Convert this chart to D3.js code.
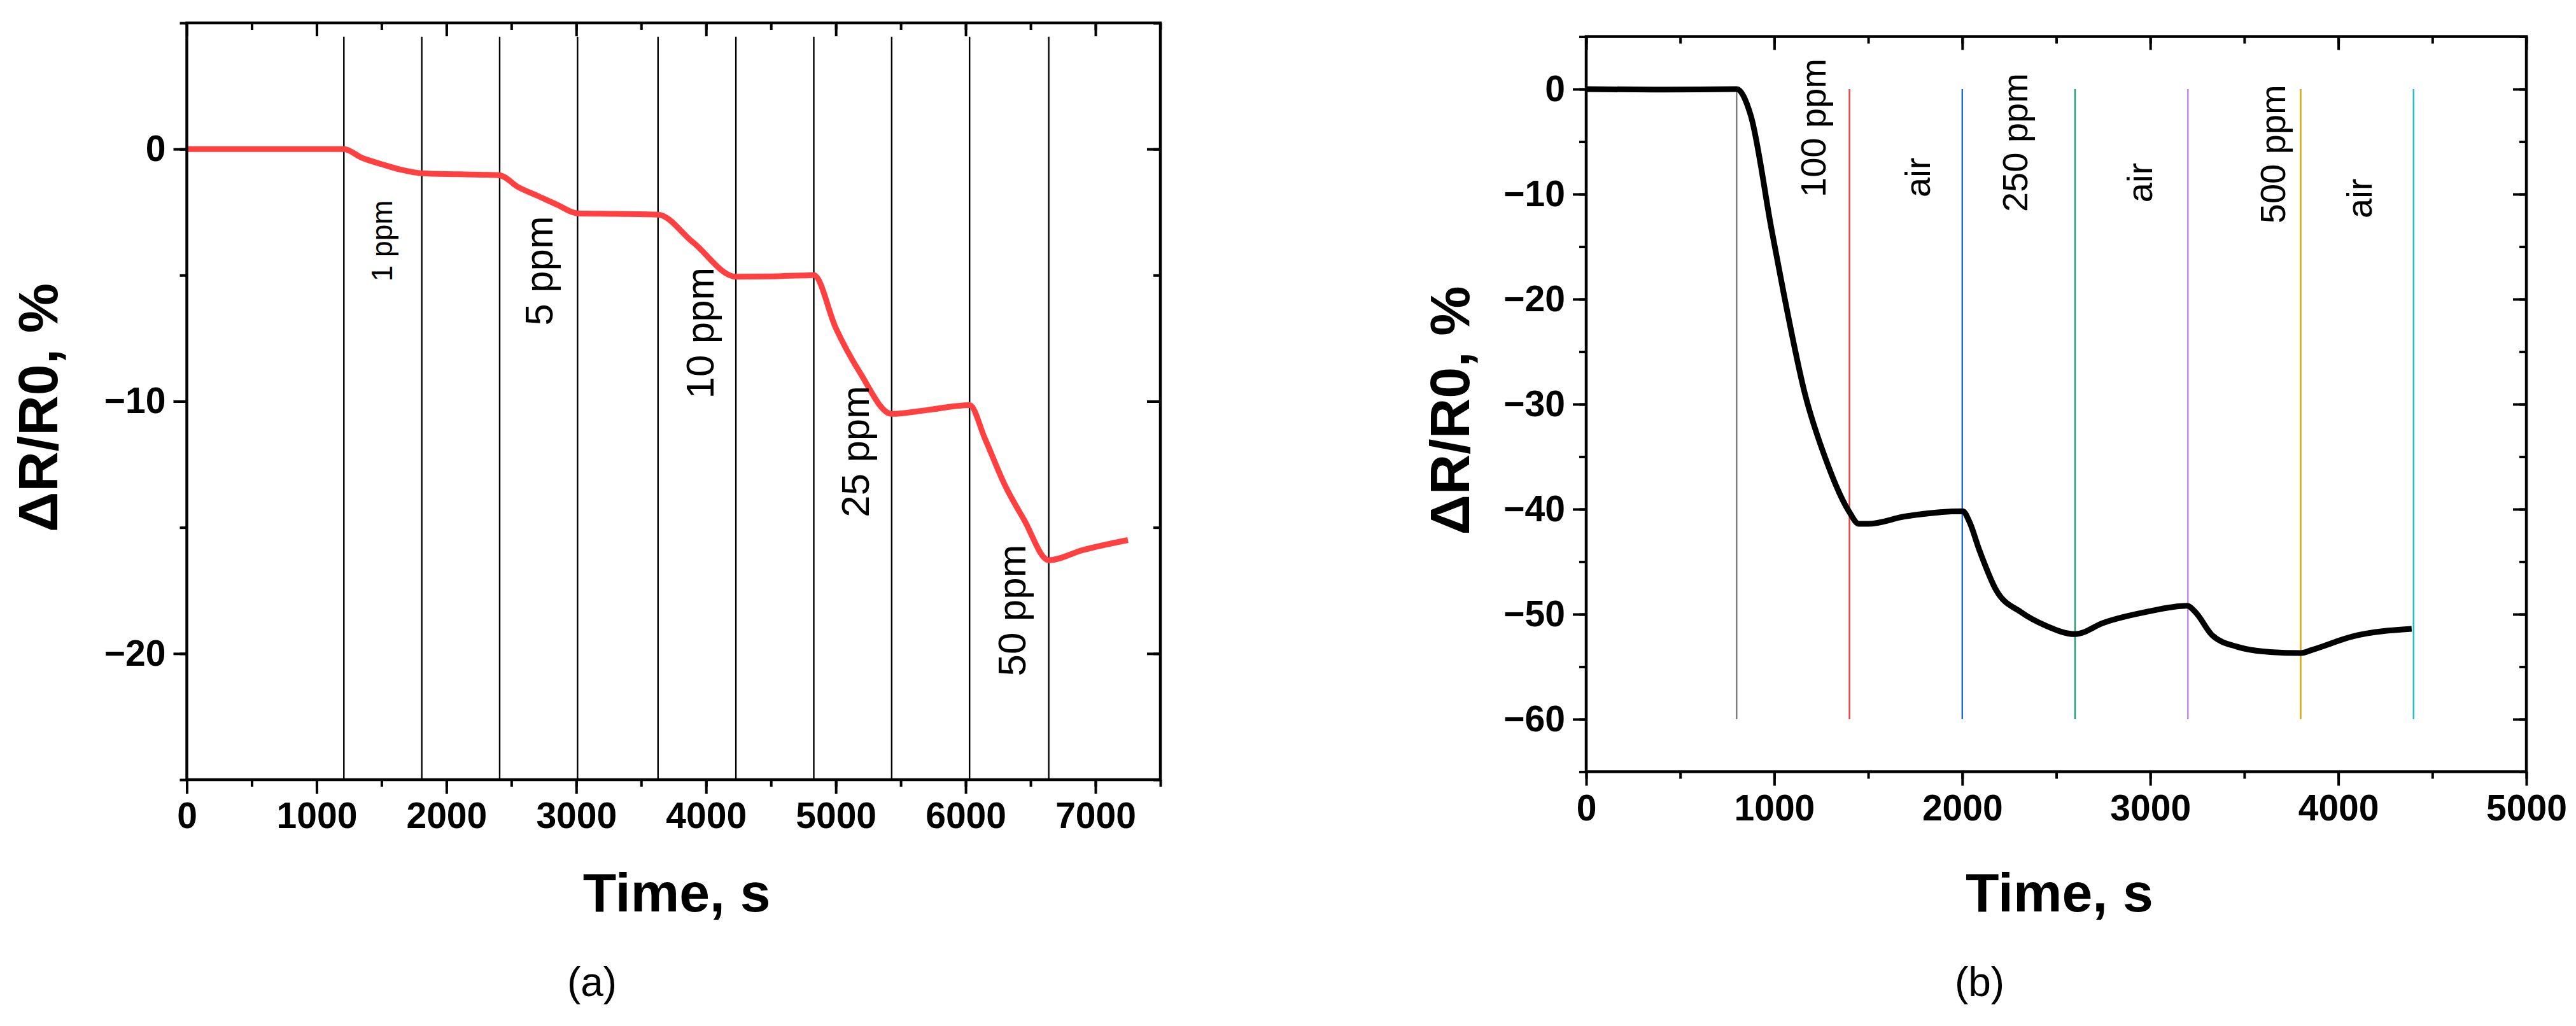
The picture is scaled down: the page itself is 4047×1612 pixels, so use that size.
<!DOCTYPE html>
<html><head><meta charset="utf-8">
<script src="https://cdn.jsdelivr.net/npm/d3@7"></script>
<style>body{margin:0;background:#fff}svg{display:block}text{font-family:"Liberation Sans",Arial,sans-serif}</style>
</head><body><svg id="c" width="4047" height="1612"></svg>
<script>
// ---- Panel (a) data ----
const timeA = [0,1210,1350,1500,1650,1810,2100,2410,2550,2700,2850,3010,3300,3630,3900,4230,4500,4830,5000,5190,5430,5700,6030,6150,6300,6450,6640,6900,7250];
const respA = [0,0,-0.35,-0.6,-0.82,-0.96,-1.0,-1.04,-1.5,-1.85,-2.2,-2.55,-2.57,-2.6,-3.7,-5.06,-5.05,-5.0,-7.1,-8.9,-10.5,-10.35,-10.15,-11.5,-13.3,-14.7,-16.3,-15.9,-15.5];
const switchA = [1210,1810,2410,3010,3630,4230,4830,5430,6030,6640];
const labelsA = ["1 ppm","5 ppm","10 ppm","25 ppm","50 ppm"];
const labelXA = [1502,2710,3953,5150,6355];
const labelYA = [-5.25,-7.0,-9.9,-14.6,-20.9];
const labelSizeA = [46,62,62,62,62];
const xTicksA = [0,1000,2000,3000,4000,5000,6000,7000];
const yTicksA = [0,-10,-20];

// ---- Panel (b) data ----
const timeB = [0,400,800,875,986,1052,1163,1273,1397,1450,1500,1693,2003,2038,2091,2180,2312,2445,2600,2754,2975,3196,3240,3329,3462,3638,3802,3860,4080,4390];
const respB = [0,-0.05,0,-2.5,-13.4,-19.6,-29,-35.2,-40.2,-41.4,-41.4,-40.7,-40.2,-41.2,-43.9,-47.7,-49.8,-51.1,-51.9,-50.8,-49.8,-49.2,-49.8,-52,-53.1,-53.6,-53.7,-53.4,-52.1,-51.4];
const switchB = [800,1400,2000,2600,3200,3800,4400];
const switchColorsB = ["#777777","#f03c3c","#1f6fd0","#1aa070","#c47fe0","#e0a000","#20c0c8"];
const labelsB = ["100 ppm","air","250 ppm","air","500 ppm","air"];
const labelXB = [1207,1760,2281,2944,3652,4111];
const labelYB = [-10.3,-10.3,-11.7,-10.8,-12.8,-12.3];
const xTicksB = [0,1000,2000,3000,4000,5000];
const yTicksB = [0,-10,-20,-30,-40,-50,-60];

const svg = d3.select("#c");

function panel(o){
  const g = svg.append("g");
  const x = d3.scaleLinear().domain(o.xd).range(o.xr);
  const y = d3.scaleLinear().domain(o.yd).range(o.yr);
  const [L,R]=o.xr, [B,T]=o.yr;
  const xMinor = d3.range(o.xd[0], o.xd[1]+1, 500);
  const yMinor = d3.range(o.yd[0], o.yd[1]+0.01, 5);
  // minor ticks
  g.append("g").attr("transform",`translate(0,${B})`).call(d3.axisBottom(x).tickValues(xMinor).tickSize(11).tickFormat(""));
  g.append("g").attr("transform",`translate(0,${T})`).call(d3.axisBottom(x).tickValues(xMinor).tickSize(11).tickFormat(""));
  g.append("g").attr("transform",`translate(${L},0)`).call(d3.axisLeft(y).tickValues(yMinor).tickSize(11).tickFormat(""));
  g.append("g").attr("transform",`translate(${R},0)`).call(d3.axisLeft(y).tickValues(yMinor).tickSize(11).tickFormat(""));
  // major
  g.append("g").attr("class","lab").attr("transform",`translate(0,${B})`).call(d3.axisBottom(x).tickValues(o.xt).tickSize(22).tickPadding(14).tickFormat(d3.format("d")));
  g.append("g").attr("transform",`translate(0,${T})`).call(d3.axisBottom(x).tickValues(o.xt).tickSize(21).tickFormat(""));
  g.append("g").attr("class","lab").attr("transform",`translate(${L},0)`).call(d3.axisLeft(y).tickValues(o.yt).tickSize(21).tickPadding(12).tickFormat(d3.format("d")));
  g.append("g").attr("transform",`translate(${R},0)`).call(d3.axisLeft(y).tickValues(o.yt).tickSize(21).tickFormat(""));
  g.selectAll(".domain").remove();
  g.selectAll(".tick line").attr("stroke","#000").attr("stroke-width",4);
  g.selectAll(".lab text").attr("font-size",57).attr("font-weight","bold").attr("fill","#000").attr("font-family","'Liberation Sans',Arial,sans-serif");
  // switch lines
  g.selectAll("line.sw").data(o.sw).join("line").attr("class","sw")
    .attr("x1",d=>x(d)).attr("x2",d=>x(d)).attr("y1",y(o.swTop)).attr("y2",y(o.swBot))
    .attr("stroke",(d,i)=>o.swc[i]).attr("stroke-width",2.4);
  // curve
  g.append("path").datum(o.t.map((t,i)=>[t,o.v[i]]))
    .attr("d",d3.line().x(d=>x(d[0])).y(d=>y(d[1])).curve(d3.curveMonotoneX))
    .attr("fill","none").attr("stroke",o.color).attr("stroke-width",9).attr("stroke-linejoin","round");
  // labels
  o.lab.forEach((s,i)=>{
    g.append("text").attr("transform",`translate(${x(o.lx[i])},${y(o.ly[i])}) rotate(-90)`)
      .attr("dy","0.35em").attr("font-size",o.ls[i]).attr("fill","#000").text(s);
  });
  // frame
  g.append("rect").attr("x",L).attr("y",T).attr("width",R-L).attr("height",B-T)
    .attr("fill","none").attr("stroke","#000").attr("stroke-width",4.5);
  // titles
  g.append("text").attr("x",(L+R)/2+5).attr("y",1432).attr("text-anchor","middle")
    .attr("font-size",86).attr("font-weight","bold").text("Time, s");
  g.append("text").attr("transform",`translate(${o.ytx},${(T+B)/2+10}) rotate(-90)`).attr("text-anchor","middle")
    .attr("font-size",88).attr("font-weight","bold").text("ΔR/R0, %");
  g.append("text").attr("x",o.capx).attr("y",1565).attr("text-anchor","middle")
    .attr("font-family","'Liberation Serif','Times New Roman',serif").attr("font-size",64).text(o.cap);
}

panel({xd:[0,7500],xr:[293.5,1823],yd:[-25,5],yr:[1225,36],xt:xTicksA,yt:yTicksA,
  sw:switchA,swc:switchA.map(()=>"#000"),swTop:4.45,swBot:-25,t:timeA,v:respA,color:"#ff4040",
  lab:labelsA,lx:labelXA,ly:labelYA,ls:labelSizeA,ytx:90,capx:930,cap:"(a)"});
panel({xd:[0,5000],xr:[2492,3969],yd:[-65,5],yr:[1212.5,57.5],xt:xTicksB,yt:yTicksB,
  sw:switchB,swc:switchColorsB,swTop:0,swBot:-60,t:timeB,v:respB,color:"#000",
  lab:labelsB,lx:labelXB,ly:labelYB,ls:labelsB.map(()=>56),ytx:2308,capx:3110,cap:"(b)"});
</script></body></html>
